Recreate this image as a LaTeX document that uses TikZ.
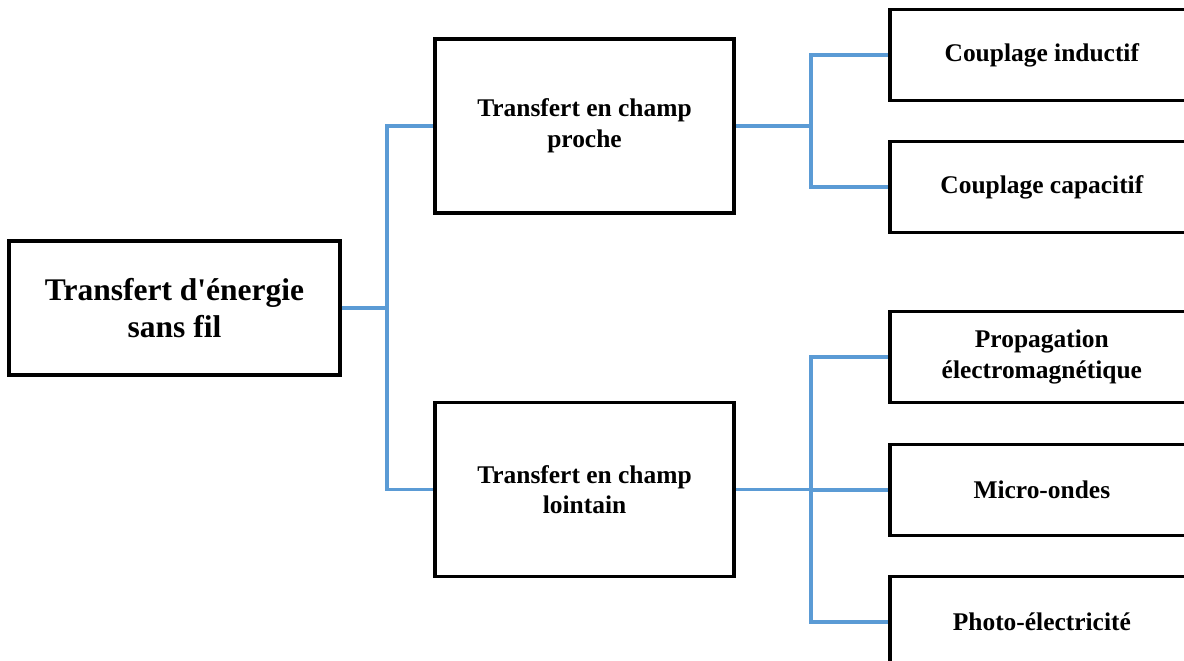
\documentclass[tikz,border=0pt]{standalone}
\usepackage{fontspec}
\setmainfont{Liberation Serif}[Ligatures=TeXOff]
\usetikzlibrary{positioning}

\definecolor{linkblue}{RGB}{91,155,213}

\tikzset{
  box/.style={draw=black, line width=2.6pt, fill=white, align=center,
    font=\bfseries\fontsize{18.1}{21.8}\selectfont, inner sep=0pt},
  rootbox/.style={box, minimum width=8.275cm, minimum height=3.35cm,
    font=\bfseries\fontsize{22.4}{26.3}\selectfont},
  midbox/.style={box, minimum width=7.475cm, minimum height=4.35cm},
  leafbox/.style={box, minimum width=7.6cm, minimum height=2.275cm},
  link/.style={draw=linkblue, line width=2.4pt},
}

\begin{document}
\begin{tikzpicture}
        \useasboundingbox (0,0) rectangle (29.6,-16.5);
        \clip (0,0) rectangle (29.6,-16.5);
        % junctions
        \coordinate (j0) at (9.675,-7.7);
        \coordinate (j1) at (20.275,-3.15);
        \coordinate (j2) at (20.275,-12.2375);
        \node[rootbox] (root) at (4.3625,-7.7) {Transfert d'énergie\\sans fil};
        \node[midbox] (near) at (14.6125,-3.15) {Transfert en champ\\proche};
        \node[midbox] (far) at (14.6125,-12.2375) {Transfert en champ\\lointain};
        \node[leafbox, anchor=west] (ind) at (22.2,-1.375) {Couplage inductif};
        \node[leafbox, anchor=west] (cap) at (22.2,-4.675) {Couplage capacitif};
        \node[leafbox, anchor=west] (prop) at (22.2,-8.925) {Propagation\\électromagnétique};
        \node[leafbox, anchor=west] (micro) at (22.2,-12.25) {Micro-ondes};
        \node[leafbox, anchor=west] (photo) at (22.2,-15.55) {Photo-électricité};
        \draw[link] (root.east) -- (j0);
        \draw[link] (j0) |- (near.west);
        \draw[link] (j0) |- (far.west);
        \draw[link] (near.east) -- (j1);
        \draw[link] (j1) |- (ind.west);
        \draw[link] (j1) |- (cap.west);
        \draw[link] (far.east) -- (j2);
        \draw[link] (j2) |- (prop.west);
        \draw[link] (j2) |- (micro.west);
        \draw[link] (j2) |- (photo.west);
\end{tikzpicture}
\end{document}
